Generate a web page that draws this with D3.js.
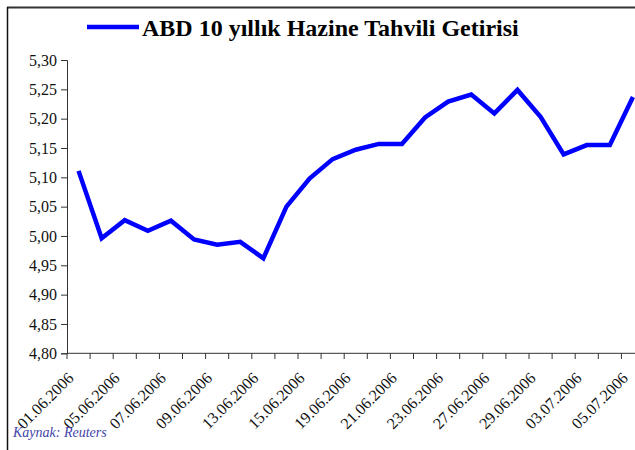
<!DOCTYPE html>
<html>
<head>
<meta charset="utf-8">
<script src="https://cdn.jsdelivr.net/npm/d3@7"></script>
<style>
  body { margin: 0; background: #fff; }
  svg { display: block; }
</style>
</head>
<body>
<div id="chart"></div>
<script>
// veriler
const dates = ["01.06.2006", "02.06.2006", "05.06.2006", "06.06.2006", "07.06.2006",
  "08.06.2006", "09.06.2006", "12.06.2006", "13.06.2006", "14.06.2006",
  "15.06.2006", "16.06.2006", "19.06.2006", "20.06.2006", "21.06.2006",
  "22.06.2006", "23.06.2006", "26.06.2006", "27.06.2006", "28.06.2006",
  "29.06.2006", "30.06.2006", "03.07.2006", "04.07.2006", "05.07.2006"];
const yields = [5.111, 4.996, 5.027, 5.009, 5.026, 4.994, 4.985, 4.990, 4.962, 5.050,
  5.098, 5.131, 5.147, 5.157, 5.157, 5.202, 5.229, 5.241, 5.209, 5.249,
  5.203, 5.139, 5.155, 5.155, 5.237];
const yTicks = [4.80, 4.85, 4.90, 4.95, 5.00, 5.05, 5.10, 5.15, 5.20, 5.25, 5.30];
const labelDates = dates.filter((d, i) => i % 2 === 0);

const W = 635, H = 450;
const serif = "'Liberation Serif', 'Times New Roman', serif";
const svg = d3.select("#chart").append("svg")
  .attr("width", W).attr("height", H)
  .style("font-family", serif);

// çerçeve
svg.append("line").attr("x1", 7).attr("x2", W).attr("y1", 7.5).attr("y2", 7.5)
  .attr("stroke", "#333").attr("stroke-width", 2);
svg.append("line").attr("x1", 7.5).attr("x2", 7.5).attr("y1", 7).attr("y2", H)
  .attr("stroke", "#111").attr("stroke-width", 1.5);

const x = d3.scaleBand().domain(dates).range([67, 67 + 25 * 23.1]);
const y = d3.scaleLinear().domain([4.80, 5.30]).range([353.3, 60]);

// y ekseni
const yAxis = svg.append("g").attr("transform", "translate(67,0)")
  .call(d3.axisLeft(y).tickValues(yTicks).tickSize(6).tickPadding(4)
    .tickFormat(d => d3.format(".2f")(d).replace(".", ",")));
yAxis.attr("font-family", null).attr("font-size", null);
yAxis.select(".domain").attr("stroke", "#333");
yAxis.selectAll(".tick line").attr("stroke", "#333");
yAxis.selectAll("text").style("font-family", serif)
  .style("font-size", "16px").attr("fill", "#111");

// x ekseni (kategori sınırlarında tikler)
const xg = svg.append("g");
xg.append("line").attr("x1", 67).attr("x2", W).attr("y1", 353.3).attr("y2", 353.3)
  .attr("stroke", "#333");
xg.selectAll("line.tk").data(d3.range(dates.length + 1)).enter().append("line")
  .attr("class", "tk")
  .attr("x1", i => 67 + i * x.bandwidth()).attr("x2", i => 67 + i * x.bandwidth())
  .attr("y1", 353.3).attr("y2", 359)
  .attr("stroke", "#333");
xg.selectAll("text").data(labelDates).enter().append("text")
  .attr("transform", d => `translate(${x(d) + x.bandwidth() / 2 - 4},${379}) rotate(-45)`)
  .attr("text-anchor", "end")
  .style("font-family", serif)
  .style("font-size", "16px").attr("fill", "#111")
  .text(d => d);

// çizgi
const line = d3.line()
  .x((d, i) => x(dates[i]) + x.bandwidth() / 2)
  .y(d => y(d));
svg.append("path").datum(yields)
  .attr("d", line)
  .attr("fill", "none")
  .attr("stroke", "#0000ff")
  .attr("stroke-width", 4.5)
  .attr("stroke-linejoin", "miter");

// başlık ve lejant
svg.append("line").attr("x1", 87).attr("x2", 139).attr("y1", 27).attr("y2", 27)
  .attr("stroke", "#0000ff").attr("stroke-width", 4.5);
svg.append("text").attr("x", 142).attr("y", 36)
  .style("font-family", serif)
  .attr("font-weight", "bold").style("font-size", "24px").attr("fill", "#000")
  .text("ABD 10 yıllık Hazine Tahvili Getirisi");

// kaynak
svg.append("text").attr("x", 13).attr("y", 437)
  .style("font-family", serif)
  .attr("font-style", "italic").style("font-size", "14px").attr("fill", "#4444aa")
  .text("Kaynak: Reuters");
</script>
</body>
</html>
